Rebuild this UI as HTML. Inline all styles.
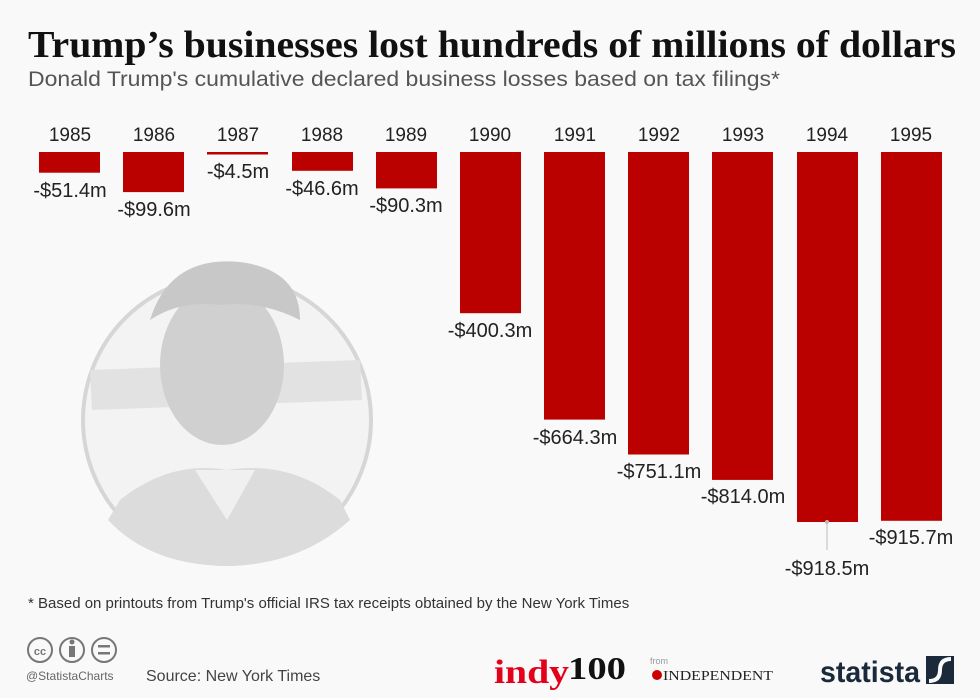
<!DOCTYPE html>
<html><head><meta charset="utf-8"><style>
body{margin:0;background:#f9f9f9;}
svg{display:block;font-family:"Liberation Sans",sans-serif;}
</style></head><body>
<svg width="980" height="698" viewBox="0 0 980 698" xmlns="http://www.w3.org/2000/svg">
<rect width="980" height="698" fill="#f9f9f9"/>
<text x="28" y="57" font-family="Liberation Serif" font-weight="bold" font-size="38" fill="#111" textLength="928" lengthAdjust="spacingAndGlyphs">Trump’s businesses lost hundreds of millions of dollars</text>
<text x="28" y="86" font-size="21" fill="#555" textLength="752" lengthAdjust="spacingAndGlyphs">Donald Trump's cumulative declared business losses based on tax filings*</text>
<!-- portrait -->
<g>
<circle cx="227" cy="420" r="144" fill="#f3f3f3" stroke="#d6d6d6" stroke-width="4"/>
<path d="M90 370 L360 360 L362 400 L92 410Z" fill="#e2e2e2"/>
<path d="M120 500 Q170 460 227 470 Q290 460 340 500 L350 520 Q300 565 227 566 Q150 565 108 520Z" fill="#dcdcdc"/>
<ellipse cx="222" cy="365" rx="62" ry="80" fill="#d0d0d0"/>
<path d="M150 320 Q170 255 240 262 Q300 270 300 320 Q260 300 220 305 Q180 300 150 320Z" fill="#c8c8c8"/>
<path d="M195 470 L227 520 L255 470Z" fill="#f0f0f0"/>
</g>
<g fill="#bb0000">
<rect x="39" y="152" width="61" height="20.7"/>
<rect x="123" y="152" width="61" height="40.1"/>
<rect x="207" y="152" width="61" height="2.5"/>
<rect x="292" y="152" width="61" height="18.8"/>
<rect x="376" y="152" width="61" height="36.4"/>
<rect x="460" y="152" width="61" height="161.2"/>
<rect x="544" y="152" width="61" height="267.6"/>
<rect x="628" y="152" width="61" height="302.5"/>
<rect x="712" y="152" width="61" height="327.9"/>
<rect x="797" y="152" width="61" height="370"/>
<rect x="881" y="152" width="61" height="368.8"/>
</g>
<g font-size="19" fill="#222" text-anchor="middle">
<text x="70" y="141">1985</text><text x="154" y="141">1986</text><text x="238" y="141">1987</text>
<text x="322" y="141">1988</text><text x="406" y="141">1989</text><text x="490" y="141">1990</text>
<text x="575" y="141">1991</text><text x="659" y="141">1992</text><text x="743" y="141">1993</text>
<text x="827" y="141">1994</text><text x="911" y="141">1995</text>
</g>
<line x1="827" y1="522" x2="827" y2="550" stroke="#bbb" stroke-width="1"/>
<circle cx="827" cy="522" r="2" fill="#bbb"/>
<g font-size="20" fill="#222" text-anchor="middle">
<text x="70" y="197">-$51.4m</text><text x="154" y="216">-$99.6m</text><text x="238" y="178">-$4.5m</text>
<text x="322" y="195">-$46.6m</text><text x="406" y="212">-$90.3m</text><text x="490" y="337">-$400.3m</text>
<text x="575" y="444">-$664.3m</text><text x="659" y="478">-$751.1m</text><text x="743" y="503">-$814.0m</text>
<text x="827" y="575">-$918.5m</text><text x="911" y="544">-$915.7m</text>
</g>
<text x="28" y="608" font-size="15" fill="#333">* Based on printouts from Trump's official IRS tax receipts obtained by the New York Times</text>
<g fill="none" stroke="#777" stroke-width="2">
<circle cx="40" cy="650" r="12"/><circle cx="72" cy="650" r="12"/><circle cx="104" cy="650" r="12"/>
</g>
<text x="40" y="655" font-size="11" font-weight="bold" fill="#777" text-anchor="middle">cc</text>
<rect x="69" y="646" width="6" height="11" fill="#777"/><circle cx="72" cy="642" r="2.5" fill="#777"/>
<rect x="98" y="645" width="12" height="2.5" fill="#777"/><rect x="98" y="652" width="12" height="2.5" fill="#777"/>
<text x="26" y="680" font-size="12" fill="#666">@StatistaCharts</text>
<text x="146" y="681" font-size="16" fill="#444">Source: New York Times</text>
<text x="494" y="683" font-family="Liberation Serif" font-weight="bold" font-size="34" fill="#e3001b" textLength="75" lengthAdjust="spacingAndGlyphs">indy</text>
<text x="568" y="679" font-family="Liberation Serif" font-weight="bold" font-size="32" fill="#111" textLength="58" lengthAdjust="spacingAndGlyphs">100</text>
<text x="650" y="664" font-size="9" fill="#999">from</text>
<circle cx="657" cy="675" r="5" fill="#c00"/>
<text x="663" y="680" font-family="Liberation Serif" font-size="14" fill="#222" textLength="110" lengthAdjust="spacingAndGlyphs">INDEPENDENT</text>
<text x="820" y="682" font-weight="bold" font-size="30" fill="#1a2a3a" textLength="100" lengthAdjust="spacingAndGlyphs">statista</text>
<rect x="926" y="656" width="28" height="28" fill="#1a2a3a"/>
<path d="M929 681 Q940 681 940 670 Q940 659 951 659" stroke="#f9f9f9" stroke-width="4" fill="none"/>
</svg>
</body></html>
